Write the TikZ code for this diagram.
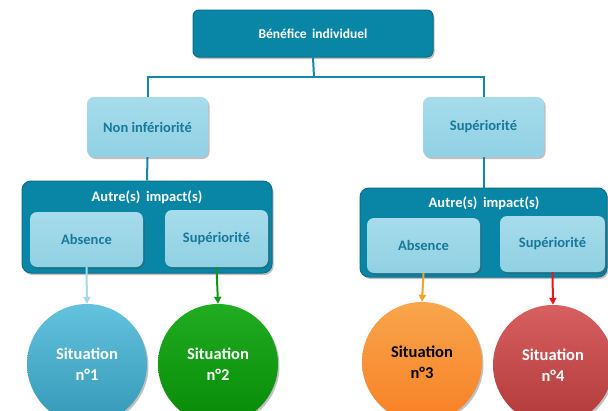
\documentclass[tikz,border=0pt]{standalone}
\usepackage{fontspec}
\setmainfont{Carlito}
\usetikzlibrary{shadows,arrows.meta}
\definecolor{teal1}{HTML}{0985A6}
\definecolor{tealB}{HTML}{0A6F8C}
\definecolor{light1}{HTML}{97D5E7}
\definecolor{lighttxt}{HTML}{17789A}
\definecolor{lineC}{HTML}{1189AA}
\definecolor{cblue}{HTML}{3DB3D6}
\definecolor{cgreen}{HTML}{08A308}
\definecolor{corange}{HTML}{F7962C}
\definecolor{cred}{HTML}{D04343}
\definecolor{arLB}{HTML}{A6D9EA}
\definecolor{arG}{HTML}{0E9A12}
\definecolor{arO}{HTML}{F7A229}
\definecolor{arR}{HTML}{E8191B}
\tikzset{
  shad/.style={drop shadow={shadow xshift=1.5pt,shadow yshift=-2pt,opacity=0.35,fill=black!70}},
  darkbox/.style={rectangle,rounded corners=6pt,draw=tealB,line width=1pt,fill=teal1,text=white,font=\bfseries\fontsize{13.5}{16}\selectfont,shad},
  lightbox/.style={rectangle,rounded corners=7pt,draw=none,top color=light1!85!white,bottom color=light1!95!teal1,text=lighttxt,font=\bfseries\fontsize{14.5}{17}\selectfont,shad},
  grp/.style={rectangle,rounded corners=9pt,draw=tealB,line width=1pt,fill=teal1,shad},
  circ/.style={circle,minimum size=120pt,inner sep=0pt,align=center,font=\bfseries\fontsize{16.5}{21}\selectfont,shad},
  conn/.style={draw=lineC,line width=2pt},
  arr/.style={line width=2pt,-{Triangle[length=7pt,width=7pt]}},
  grptitle/.style={text=white,font=\bfseries\fontsize{14.5}{17}\selectfont}
}
\begin{document}
\begin{tikzpicture}[x=1pt,y=-1pt]
\useasboundingbox[fill=white] (0,0) rectangle (608,410);
\node[darkbox,minimum width=240pt,minimum height=47pt] (top) at (313,33.5) {Bénéfice\, individuel};
\node[lightbox,minimum width=121pt,minimum height=60pt] (noninf) at (147.5,127) {Non infériorité};
\node[lightbox,minimum width=121pt,minimum height=60pt] (sup) at (483.5,127) {Supériorité};
\coordinate (mid) at (314,77);
\draw[conn] (top.south) -- (mid);
\draw[conn] (noninf.north) |- (mid) -| (sup.north);
\node[grp,minimum width=250pt,minimum height=92pt] (grpL) at (147,227) {};
\node[grp,minimum width=247pt,minimum height=89pt] (grpR) at (483.5,232.5) {};
\draw[conn] (noninf.south) -- (grpL.north);
\draw[conn] (sup.south) -- (grpR.north);
\node[grptitle] (tL) at (147,197) {Autre(s)\, impact(s)};
\node[grptitle] (tR) at (484,203) {Autre(s)\, impact(s)};
\node[lightbox,minimum width=113pt,minimum height=55pt] (absL) at (86.5,239.5) {Absence};
\node[lightbox,minimum width=103pt,minimum height=57pt] (supL) at (216.5,238.5) {Supériorité};
\node[lightbox,minimum width=113pt,minimum height=55pt] (absR) at (423.5,245.5) {Absence};
\node[lightbox,minimum width=105pt,minimum height=56pt] (supR) at (552.5,244) {Supériorité};
\node[circ,top color=cblue!80!white,bottom color=cblue!85!black,text=white] (c1) at (87,364) {Situation\\n°1};
\node[circ,top color=cgreen!90!white,bottom color=cgreen!85!black,text=white] (c2) at (218,364) {Situation\\n°2};
\node[circ,top color=corange!85!white,bottom color=corange!85!red,text=black] (c3) at (422,362) {Situation\\n°3};
\node[circ,top color=cred!85!white,bottom color=cred!85!black,text=white] (c4) at (553,365) {Situation\\n°4};
\draw[arr,arLB] (absL.south) -- (c1.north);
\draw[arr,arG] (supL.south) -- (c2.north);
\draw[arr,arO] (absR.south) -- (c3.north);
\draw[arr,arR] (supR.south) -- (c4.north);
\end{tikzpicture}
\end{document}
